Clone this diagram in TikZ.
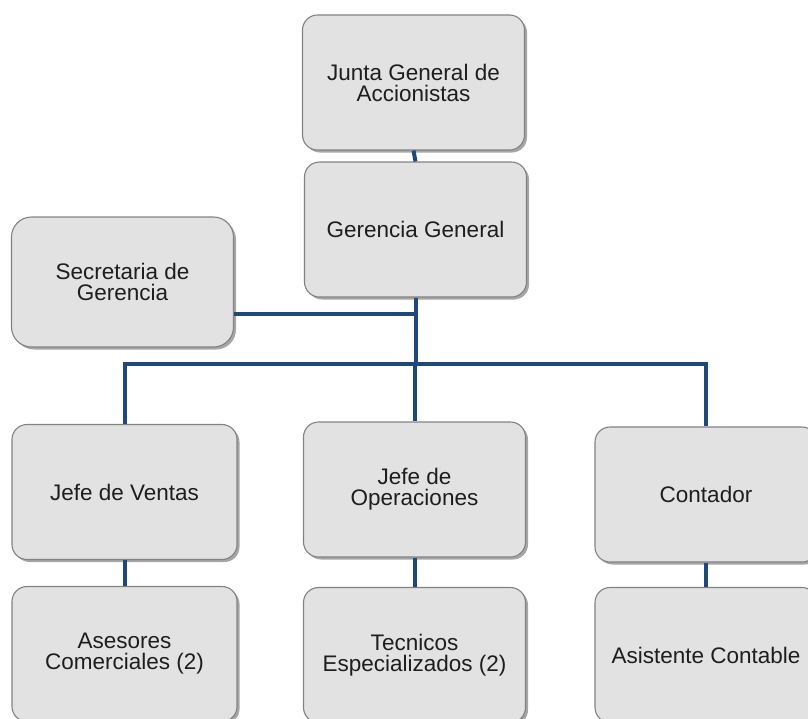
\documentclass[tikz,border=0pt]{standalone}
\usepackage{fontspec}
\setmainfont{Liberation Sans}
\usetikzlibrary{shadows}
\definecolor{boxfill}{RGB}{226,226,226}
\definecolor{boxline}{RGB}{130,130,130}
\definecolor{linkblue}{RGB}{31,73,125}
\definecolor{txt}{RGB}{30,30,30}
\tikzset{
  orgbox/.style={draw=boxline, line width=1.1pt, fill=boxfill, rounded corners=15pt,
    minimum width=222pt, minimum height=135pt, inner sep=0pt, align=center,
    text=txt, font=\fontsize{22.5}{21}\selectfont,
    drop shadow={shadow xshift=2.5pt, shadow yshift=-2.5pt, fill=black, opacity=0.35}},
  link/.style={draw=linkblue, line width=4pt}
}
\begin{document}
\begin{tikzpicture}[x=1pt,y=-1pt]
\useasboundingbox (0,0) rectangle (808,718);
\clip (0,0) rectangle (808,718);
\node[orgbox] (junta) at (413.5,82.5) {Junta General de\\Accionistas};
\node[orgbox] (gerencia) at (415.5,229.5) {Gerencia General};
\node[orgbox, minimum height=130pt, rounded corners=20pt] (secretaria) at (122.5,282) {Secretaria de\\Gerencia};
\node[orgbox, minimum width=225pt] (ventas) at (124.5,492) {Jefe de Ventas};
\node[orgbox] (ops) at (414.5,489.5) {Jefe de\\Operaciones};
\node[orgbox] (contador) at (706,494.5) {Contador};
\node[orgbox, minimum width=225pt] (asesores) at (124.5,654) {Asesores\\Comerciales (2)};
\node[orgbox] (tecnicos) at (414.5,655) {Tecnicos\\Especializados (2)};
\node[orgbox] (asistente) at (706,655) {Asistente Contable};
\draw[link] (junta.south) -- (gerencia.north);
\draw[link] (gerencia.south) -- ++(0,66) coordinate (busmid);
\coordinate (secout) at ([yshift=-32pt]secretaria.east);
\draw[link] (secout) -- (secout -| busmid);
\draw[link] (ventas.north) -- (ventas.north |- busmid) -- (contador.north |- busmid) -- (contador.north);
\draw[link] (ops.north) -- (ops.north |- busmid);
\draw[link] (ventas.south) -- (asesores.north);
\draw[link] (ops.south) -- (tecnicos.north);
\draw[link] (contador.south) -- (asistente.north);
\end{tikzpicture}
\end{document}
